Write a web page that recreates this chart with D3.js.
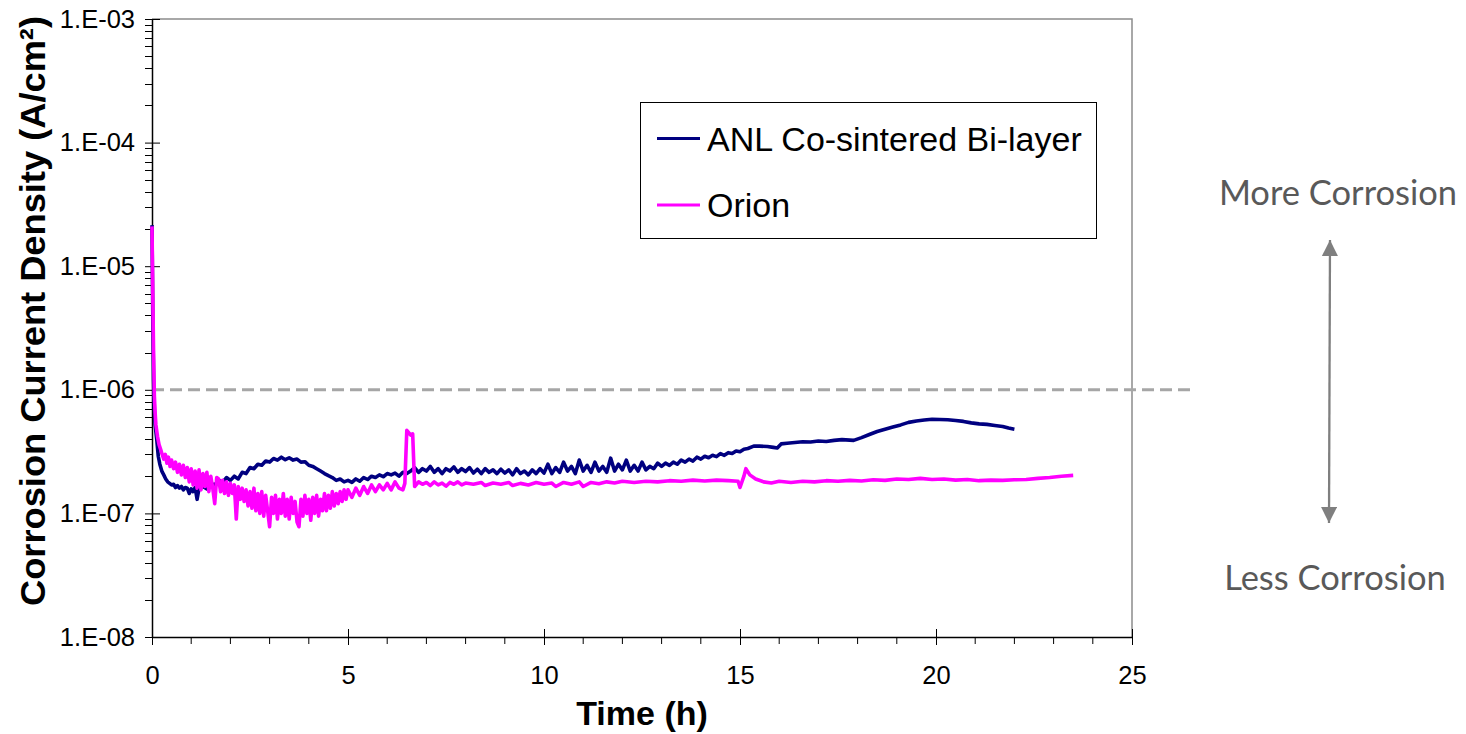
<!DOCTYPE html>
<html>
<head>
<meta charset="utf-8">
<script src="https://cdn.jsdelivr.net/npm/d3@7"></script>
<style>
  body { margin: 0; background: #fff; }
  svg { display: block; }
</style>
</head>
<body>
<div id="chart"></div>
<script>
// values: [hours, A/cm2]
const anlSeries = [
  [0, 2.15e-5], [0.02, 4e-6], [0.04, 1.2e-6], [0.06, 7e-7], [0.08, 5.2e-7], [0.12, 4.0e-7],
  [0.16, 2.9e-7], [0.2, 2.5e-7], [0.25, 2.2e-7], [0.3, 2.05e-7], [0.35, 1.9e-7], [0.4, 1.8e-7],
  [0.45, 1.75e-7], [0.5, 1.7e-7], [0.55, 1.72e-7], [0.6, 1.62e-7], [0.65, 1.68e-7], [0.7, 1.6e-7],
  [0.75, 1.65e-7], [0.8, 1.55e-7], [0.85, 1.62e-7], [0.9, 1.6e-7], [0.95, 1.45e-7], [1.0, 1.58e-7],
  [1.05, 1.5e-7], [1.1, 1.62e-7], [1.15, 1.3e-7], [1.2, 1.6e-7], [1.3, 1.65e-7], [1.4, 1.58e-7],
  [1.5, 1.75e-7], [1.6, 1.7e-7], [1.7, 1.85e-7], [1.8, 1.78e-7], [1.9, 1.95e-7], [2.0, 1.85e-7],
  [2.1, 2.0e-7], [2.2, 1.9e-7], [2.3, 2.15e-7], [2.4, 2.1e-7], [2.5, 2.35e-7], [2.6, 2.3e-7],
  [2.7, 2.5e-7], [2.8, 2.45e-7], [2.9, 2.65e-7], [3.0, 2.6e-7], [3.1, 2.78e-7], [3.2, 2.7e-7],
  [3.3, 2.85e-7], [3.4, 2.72e-7], [3.5, 2.82e-7], [3.6, 2.7e-7], [3.7, 2.75e-7], [3.8, 2.6e-7],
  [3.9, 2.62e-7], [4.0, 2.45e-7], [4.1, 2.4e-7], [4.2, 2.3e-7], [4.3, 2.2e-7], [4.4, 2.1e-7],
  [4.5, 2.02e-7], [4.6, 1.95e-7], [4.7, 1.85e-7], [4.8, 1.9e-7], [4.9, 1.8e-7], [5.0, 1.85e-7],
  [5.1, 1.78e-7], [5.2, 1.9e-7], [5.3, 1.82e-7], [5.4, 1.95e-7], [5.5, 1.88e-7], [5.6, 2.0e-7],
  [5.7, 1.95e-7], [5.8, 2.05e-7], [5.9, 1.98e-7], [6.0, 2.1e-7], [6.1, 2.05e-7], [6.2, 2.12e-7],
  [6.3, 2.0e-7], [6.4, 2.15e-7], [6.5, 2.1e-7], [6.6, 2.2e-7], [6.7, 2.35e-7], [6.8, 2.15e-7],
  [6.9, 2.3e-7], [7.0, 2.2e-7], [7.1, 2.4e-7], [7.2, 2.15e-7], [7.3, 2.3e-7], [7.4, 2.1e-7],
  [7.5, 2.3e-7], [7.6, 2.2e-7], [7.7, 2.38e-7], [7.8, 2.15e-7], [7.9, 2.3e-7], [8.0, 2.18e-7],
  [8.1, 2.35e-7], [8.2, 2.12e-7], [8.3, 2.28e-7], [8.4, 2.1e-7], [8.5, 2.3e-7], [8.6, 2.15e-7],
  [8.7, 2.25e-7], [8.8, 2.1e-7], [8.9, 2.28e-7], [9.0, 2.12e-7], [9.1, 2.25e-7], [9.2, 2.05e-7],
  [9.3, 2.3e-7], [9.4, 2.1e-7], [9.5, 2.2e-7], [9.6, 2.05e-7], [9.7, 2.25e-7], [9.8, 2.1e-7],
  [9.9, 2.3e-7], [10.0, 2.12e-7], [10.1, 2.5e-7], [10.2, 2.1e-7], [10.3, 2.35e-7], [10.4, 2.15e-7],
  [10.5, 2.6e-7], [10.6, 2.2e-7], [10.7, 2.4e-7], [10.8, 2.1e-7], [10.9, 2.7e-7], [11.0, 2.2e-7],
  [11.1, 2.45e-7], [11.2, 2.15e-7], [11.3, 2.6e-7], [11.4, 2.2e-7], [11.5, 2.4e-7], [11.6, 2.15e-7],
  [11.7, 2.8e-7], [11.8, 2.2e-7], [11.9, 2.5e-7], [12.0, 2.25e-7], [12.1, 2.7e-7], [12.2, 2.2e-7],
  [12.3, 2.45e-7], [12.4, 2.2e-7], [12.5, 2.6e-7], [12.6, 2.25e-7], [12.7, 2.4e-7], [12.8, 2.3e-7],
  [12.9, 2.55e-7], [13.0, 2.4e-7], [13.1, 2.55e-7], [13.2, 2.45e-7], [13.3, 2.6e-7], [13.4, 2.5e-7],
  [13.5, 2.7e-7], [13.6, 2.6e-7], [13.7, 2.75e-7], [13.8, 2.65e-7], [13.9, 2.85e-7], [14.0, 2.75e-7],
  [14.1, 2.9e-7], [14.2, 2.82e-7], [14.3, 2.95e-7], [14.4, 2.88e-7], [14.5, 3.05e-7], [14.6, 2.95e-7],
  [14.7, 3.1e-7], [14.8, 3.05e-7], [14.9, 3.2e-7], [15.0, 3.15e-7], [15.1, 3.3e-7], [15.2, 3.35e-7],
  [15.35, 3.5e-7], [15.5, 3.5e-7], [15.7, 3.48e-7], [15.85, 3.42e-7], [15.95, 3.38e-7], [16.05, 3.65e-7],
  [16.2, 3.7e-7], [16.4, 3.75e-7], [16.6, 3.8e-7], [16.8, 3.78e-7], [17.0, 3.85e-7], [17.2, 3.82e-7],
  [17.4, 3.9e-7], [17.6, 3.95e-7], [17.9, 3.9e-7], [18.1, 4.1e-7], [18.3, 4.35e-7], [18.5, 4.6e-7],
  [18.7, 4.8e-7], [18.9, 5.0e-7], [19.1, 5.2e-7], [19.3, 5.45e-7], [19.5, 5.6e-7], [19.7, 5.7e-7],
  [19.9, 5.78e-7], [20.1, 5.75e-7], [20.3, 5.72e-7], [20.5, 5.65e-7], [20.7, 5.55e-7], [20.9, 5.4e-7],
  [21.1, 5.3e-7], [21.3, 5.25e-7], [21.5, 5.15e-7], [21.7, 5.05e-7], [21.85, 4.9e-7], [22.0, 4.8e-7]
];

const orionSeries = [
  [0, 2.1e-5], [0.02, 6e-6], [0.04, 2e-6], [0.06, 9e-7], [0.08, 6.5e-7], [0.1, 5.2e-7],
  [0.14, 4.2e-7], [0.18, 3.6e-7], [0.22, 3.3e-7], [0.26, 3.0e-7], [0.3, 2.75e-7], [0.34, 3.0e-7],
  [0.38, 2.55e-7], [0.42, 2.85e-7], [0.46, 2.4e-7], [0.5, 2.7e-7], [0.55, 2.3e-7], [0.6, 2.6e-7],
  [0.65, 2.15e-7], [0.7, 2.5e-7], [0.75, 2.05e-7], [0.8, 2.45e-7], [0.85, 1.95e-7], [0.9, 2.35e-7],
  [0.95, 1.8e-7], [1.0, 2.3e-7], [1.05, 1.7e-7], [1.1, 2.2e-7], [1.15, 1.6e-7], [1.2, 2.25e-7],
  [1.25, 1.55e-7], [1.3, 2.1e-7], [1.35, 1.65e-7], [1.4, 2.15e-7], [1.45, 1.5e-7], [1.5, 2.0e-7],
  [1.55, 1.6e-7], [1.6, 1.2e-7], [1.65, 1.95e-7], [1.7, 1.9e-7], [1.75, 1.5e-7], [1.8, 1.85e-7],
  [1.85, 1.45e-7], [1.9, 1.8e-7], [1.95, 1.4e-7], [2.0, 1.75e-7], [2.05, 1.45e-7], [2.1, 1.7e-7],
  [2.15, 0.9e-7], [2.2, 1.65e-7], [2.25, 1.3e-7], [2.3, 1.6e-7], [2.35, 1.25e-7], [2.4, 1.55e-7],
  [2.45, 1.15e-7], [2.5, 1.5e-7], [2.55, 1.1e-7], [2.6, 1.6e-7], [2.65, 1.05e-7], [2.7, 1.45e-7],
  [2.75, 1.0e-7], [2.8, 1.5e-7], [2.85, 0.95e-7], [2.9, 1.4e-7], [2.95, 1.05e-7], [3.0, 0.78e-7],
  [3.05, 1.35e-7], [3.1, 1.0e-7], [3.15, 1.4e-7], [3.2, 0.9e-7], [3.25, 1.3e-7], [3.3, 1.0e-7],
  [3.35, 1.45e-7], [3.4, 0.95e-7], [3.45, 1.3e-7], [3.5, 0.9e-7], [3.55, 1.35e-7], [3.6, 1.0e-7],
  [3.65, 1.25e-7], [3.7, 0.85e-7], [3.75, 0.78e-7], [3.8, 1.3e-7], [3.85, 0.95e-7], [3.9, 1.4e-7],
  [3.95, 1.0e-7], [4.0, 1.3e-7], [4.05, 0.88e-7], [4.1, 1.35e-7], [4.15, 1.0e-7], [4.2, 1.4e-7],
  [4.25, 0.95e-7], [4.3, 1.3e-7], [4.35, 1.05e-7], [4.4, 1.45e-7], [4.45, 1.05e-7], [4.5, 1.4e-7],
  [4.55, 1.1e-7], [4.6, 1.5e-7], [4.65, 1.15e-7], [4.7, 1.45e-7], [4.75, 1.2e-7], [4.8, 1.5e-7],
  [4.85, 1.25e-7], [4.9, 1.55e-7], [4.95, 1.3e-7], [5.0, 1.55e-7], [5.1, 1.35e-7], [5.2, 1.6e-7],
  [5.3, 1.4e-7], [5.4, 1.65e-7], [5.5, 1.45e-7], [5.6, 1.7e-7], [5.7, 1.5e-7], [5.8, 1.7e-7],
  [5.9, 1.55e-7], [6.0, 1.75e-7], [6.1, 1.55e-7], [6.2, 1.8e-7], [6.3, 1.6e-7], [6.4, 1.55e-7],
  [6.45, 1.75e-7], [6.5, 4.7e-7], [6.6, 4.3e-7], [6.65, 4.4e-7], [6.7, 1.65e-7], [6.8, 1.8e-7],
  [6.9, 1.72e-7], [7.0, 1.78e-7], [7.1, 1.68e-7], [7.2, 1.8e-7], [7.3, 1.7e-7], [7.4, 1.76e-7],
  [7.5, 1.66e-7], [7.6, 1.78e-7], [7.7, 1.72e-7], [7.8, 1.8e-7], [7.9, 1.7e-7], [8.0, 1.76e-7],
  [8.2, 1.72e-7], [8.4, 1.78e-7], [8.5, 1.68e-7], [8.7, 1.76e-7], [8.9, 1.72e-7], [9.1, 1.78e-7],
  [9.2, 1.68e-7], [9.4, 1.75e-7], [9.6, 1.7e-7], [9.8, 1.78e-7], [10.0, 1.72e-7], [10.2, 1.76e-7],
  [10.3, 1.65e-7], [10.5, 1.78e-7], [10.7, 1.72e-7], [10.9, 1.8e-7], [11.0, 1.65e-7], [11.2, 1.78e-7],
  [11.4, 1.74e-7], [11.6, 1.8e-7], [11.8, 1.76e-7], [12.0, 1.82e-7], [12.3, 1.78e-7], [12.6, 1.82e-7],
  [12.9, 1.8e-7], [13.2, 1.84e-7], [13.5, 1.82e-7], [13.8, 1.86e-7], [14.1, 1.83e-7], [14.4, 1.86e-7],
  [14.7, 1.84e-7], [14.95, 1.82e-7], [15.0, 1.62e-7], [15.1, 2.0e-7], [15.15, 2.3e-7], [15.25, 2.05e-7],
  [15.4, 1.9e-7], [15.6, 1.8e-7], [15.8, 1.76e-7], [16.0, 1.82e-7], [16.3, 1.78e-7], [16.6, 1.82e-7],
  [16.9, 1.8e-7], [17.2, 1.84e-7], [17.5, 1.82e-7], [17.8, 1.85e-7], [18.1, 1.83e-7], [18.4, 1.87e-7],
  [18.7, 1.85e-7], [19.0, 1.9e-7], [19.3, 1.88e-7], [19.6, 1.92e-7], [19.9, 1.88e-7], [20.2, 1.9e-7],
  [20.5, 1.86e-7], [20.8, 1.88e-7], [21.1, 1.84e-7], [21.4, 1.86e-7], [21.7, 1.85e-7], [22.0, 1.87e-7],
  [22.3, 1.88e-7], [22.6, 1.92e-7], [22.9, 1.95e-7], [23.2, 2.0e-7], [23.5, 2.03e-7]
];

const seriesNames = ["ANL Co-sintered Bi-layer", "Orion"];
const seriesColors = ["#000080", "#ff00ff"];
const xTicks = [0, 5, 10, 15, 20, 25];
const yTicks = [1e-8, 1e-7, 1e-6, 1e-5, 1e-4, 1e-3];
const threshold = 1e-6;

const width = 1466, height = 734;
const margin = {top: 19, right: 334, bottom: 97, left: 152};

const svg = d3.select("#chart").append("svg")
  .attr("width", width)
  .attr("height", height)
  .style("font-family", "'Liberation Sans', Arial, sans-serif");

svg.append("rect").attr("width", width).attr("height", height).attr("fill", "#fff");

const x = d3.scaleLinear().domain([0, 25]).range([margin.left, width - margin.right]);
const y = d3.scaleLog().domain([1e-8, 1e-3]).range([height - margin.bottom, margin.top]);

// plot border (top / right grey)
svg.append("path")
  .attr("d", `M${x(0)},${y(1e-3)}H${x(25)}V${y(1e-8)}`)
  .attr("fill", "none").attr("stroke", "#8c8c8c").attr("stroke-width", 1.5);

// minor ticks
const yMinor = [];
for (let e = -8; e < -3; e++) for (let m = 2; m <= 9; m++) yMinor.push(m * Math.pow(10, e));
svg.append("g").selectAll("line").data(yMinor).join("line")
  .attr("x1", x(0) - 7).attr("x2", x(0))
  .attr("y1", d => Math.round(y(d)) + 0.5).attr("y2", d => Math.round(y(d)) + 0.5)
  .attr("stroke", "#000").attr("stroke-width", 1);

const xMinor = d3.range(1, 25).filter(d => d % 5 !== 0);
svg.append("g").selectAll("line").data(xMinor).join("line")
  .attr("x1", d => x(d)).attr("x2", d => x(d))
  .attr("y1", y(1e-8)).attr("y2", y(1e-8) + 7)
  .attr("stroke", "#000").attr("stroke-width", 1);

// y axis
const yAxis = d3.axisLeft(y).tickValues(yTicks).tickSizeInner(0).tickSizeOuter(0)
  .tickPadding(17)
  .tickFormat(d => "1.E-" + String(-Math.round(Math.log10(d))).padStart(2, "0"));
const gy = svg.append("g").attr("transform", `translate(${x(0)},0)`).call(yAxis);
gy.select(".domain").attr("stroke", "#000").attr("stroke-width", 1.5);
gy.selectAll(".tick line").attr("x1", -7).attr("x2", 8).attr("stroke", "#000");
gy.selectAll(".tick text").attr("font-size", 25.5).attr("fill", "#000")
  .attr("font-family", "'Liberation Sans', Arial, sans-serif");

// x axis
const xAxis = d3.axisBottom(x).tickValues(xTicks).tickSizeInner(0).tickSizeOuter(0)
  .tickPadding(29).tickFormat(d3.format("d"));
const gx = svg.append("g").attr("transform", `translate(0,${y(1e-8)})`).call(xAxis);
gx.select(".domain").attr("stroke", "#000").attr("stroke-width", 1.5);
gx.selectAll(".tick line").attr("y1", -8).attr("y2", 8).attr("stroke", "#000");
gx.selectAll(".tick text").attr("font-size", 25.5).attr("fill", "#000")
  .attr("font-family", "'Liberation Sans', Arial, sans-serif");

// threshold dashed line
svg.append("line")
  .attr("x1", x(0)).attr("x2", 1192)
  .attr("y1", y(threshold)).attr("y2", y(threshold))
  .attr("stroke", "#a6a6a6").attr("stroke-width", 3)
  .attr("stroke-dasharray", "12,6");

// series
const line = d3.line().x(d => x(d[0])).y(d => y(d[1]));
[anlSeries, orionSeries].forEach((s, i) => {
  svg.append("path")
    .attr("d", line(s))
    .attr("fill", "none")
    .attr("stroke", seriesColors[i])
    .attr("stroke-width", 3.6)
    .attr("stroke-linejoin", "round");
});

// axis titles
svg.append("text")
  .attr("x", x(12.5)).attr("y", 725)
  .attr("text-anchor", "middle")
  .attr("font-size", 34).attr("font-weight", "bold")
  .text("Time (h)");

svg.append("text")
  .attr("transform", "translate(45,311) rotate(-90)")
  .attr("text-anchor", "middle")
  .attr("font-size", 35).attr("font-weight", "bold")
  .attr("textLength", 590).attr("lengthAdjust", "spacingAndGlyphs")
  .text("Corrosion Current Density (A/cm²)");

// legend
const legend = svg.append("g");
legend.append("rect")
  .attr("x", 640.5).attr("y", 102.5).attr("width", 456).attr("height", 136)
  .attr("fill", "#fff").attr("stroke", "#000").attr("stroke-width", 1);
seriesNames.forEach((name, i) => {
  const ly = [138.5, 205][i];
  legend.append("line")
    .attr("x1", 657).attr("x2", 700).attr("y1", ly).attr("y2", ly)
    .attr("stroke", seriesColors[i]).attr("stroke-width", 3);
  legend.append("text")
    .attr("x", 707).attr("y", ly + 12)
    .attr("font-size", 34).attr("fill", "#000")
    .text(name);
});

// annotation arrow
const defs = svg.append("defs");
defs.append("marker")
  .attr("id", "head")
  .attr("viewBox", "0 0 10 10")
  .attr("refX", 10).attr("refY", 5)
  .attr("markerWidth", 7).attr("markerHeight", 7)
  .attr("markerUnits", "strokeWidth")
  .attr("orient", "auto-start-reverse")
  .append("path").attr("d", "M0,0L10,5L0,10Z").attr("fill", "#7f7f7f");

svg.append("line")
  .attr("x1", 1330).attr("x2", 1329)
  .attr("y1", 240).attr("y2", 523)
  .attr("stroke", "#7f7f7f").attr("stroke-width", 2.3)
  .attr("marker-start", "url(#head)").attr("marker-end", "url(#head)");

svg.append("text")
  .attr("x", 1338).attr("y", 205)
  .attr("text-anchor", "middle")
  .attr("font-family", "Lato, 'Open Sans', sans-serif")
  .attr("font-size", 34.5).attr("fill", "#595959")
  .text("More Corrosion");

svg.append("text")
  .attr("x", 1335).attr("y", 590)
  .attr("text-anchor", "middle")
  .attr("font-family", "Lato, 'Open Sans', sans-serif")
  .attr("font-size", 34.5).attr("fill", "#595959")
  .text("Less Corrosion");
</script>
</body>
</html>
